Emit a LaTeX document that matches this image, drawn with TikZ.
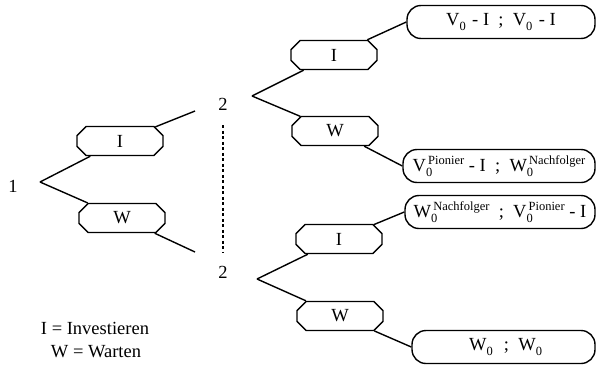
\documentclass[tikz,border=0pt]{standalone}
\usepackage{fontspec}
\setmainfont{Liberation Serif}
\usetikzlibrary{shapes.misc}
\newcommand{\idx}{\fontsize{12.5}{14}\selectfont}
\newcommand{\pay}[2]{#1\rlap{\raisebox{-5pt}{\idx 0}}\raisebox{7.5pt}{\idx\,#2}\ifx&#2&\hspace{6pt}\fi}

\begin{document}
\begin{tikzpicture}[
  x=1pt, y=-1pt,
  font=\fontsize{18.5}{22}\selectfont,
  edge/.style={line width=1.4pt},
  move/.style={draw, line width=1.4pt, chamfered rectangle,
               chamfered rectangle xsep=6pt, minimum width=86pt,
               minimum height=29pt, inner sep=0pt},
  payoff/.style={draw, line width=1.4pt, rounded corners=14pt,
                 minimum height=33pt, inner sep=0pt},
  label/.style={inner sep=1pt}
]
\useasboundingbox (0,0) rectangle (596,367);

% decision nodes
\coordinate (r) at (40,182);
\node[label] (n1) at (13,186) {1};
\node[label] (n2a) at (223,104) {2};
\node[label] (n2b) at (223,272) {2};
\coordinate (v2a) at (252,96);
\coordinate (v2b) at (257,279);
\coordinate (e1) at (195,111);
\coordinate (e2) at (195,252);

% actions
\node[move] (bI1) at (120,141) {I};
\node[move] (bW1) at (122,218) {W};
\node[move] (bI2) at (334,55) {I};
\node[move] (bW2) at (335,131) {W};
\node[move] (bI3) at (339,239) {I};
\node[move] (bW3) at (340,316) {W};

% payoffs
\node[payoff, minimum width=188pt] (o1) at (501,22)
  {\pay{V}{} - I\enspace;\enspace \pay{V}{} - I};
\node[payoff, minimum width=192pt] (o2) at (499,166)
  {\pay{V}{Pionier} - I\enspace;\enspace\pay{W}{Nachfolger}};
\node[payoff, minimum width=190pt] (o3) at (500,212)
  {\pay{W}{Nachfolger}\enspace;\enspace\pay{V}{Pionier} - I};
\node[payoff, minimum width=183pt] (o4) at (503.5,347)
  {\pay{W}{}\enspace;\enspace\pay{W}{}};

\draw[edge] (r) -- (bI1);
\draw[edge] (bI1) -- (e1);
\draw[edge] (r) -- (bW1);
\draw[edge] (bW1) -- (e2);

\draw[edge] (v2a) -- (bI2);
\draw[edge] (bI2) -- (o1.west);
\draw[edge] (v2a) -- (bW2);
\draw[edge] (bW2) -- (o2.west);
\draw[edge] (v2b) -- (bI3);
\draw[edge] (bI3) -- (o3.west);
\draw[edge] (v2b) -- (bW3);
\draw[edge] (bW3) -- (o4.west);

\draw[line width=1.2pt, dash pattern=on 3pt off 2.5pt]
  ([yshift=-14pt]n2a.south) -- ([yshift=12pt]n2b.north);

% legend
\node[label] (l1) at (95,328) {I = Investieren};
\node[label] (l2) at (96,352) {W = Warten};
\end{tikzpicture}
\end{document}
